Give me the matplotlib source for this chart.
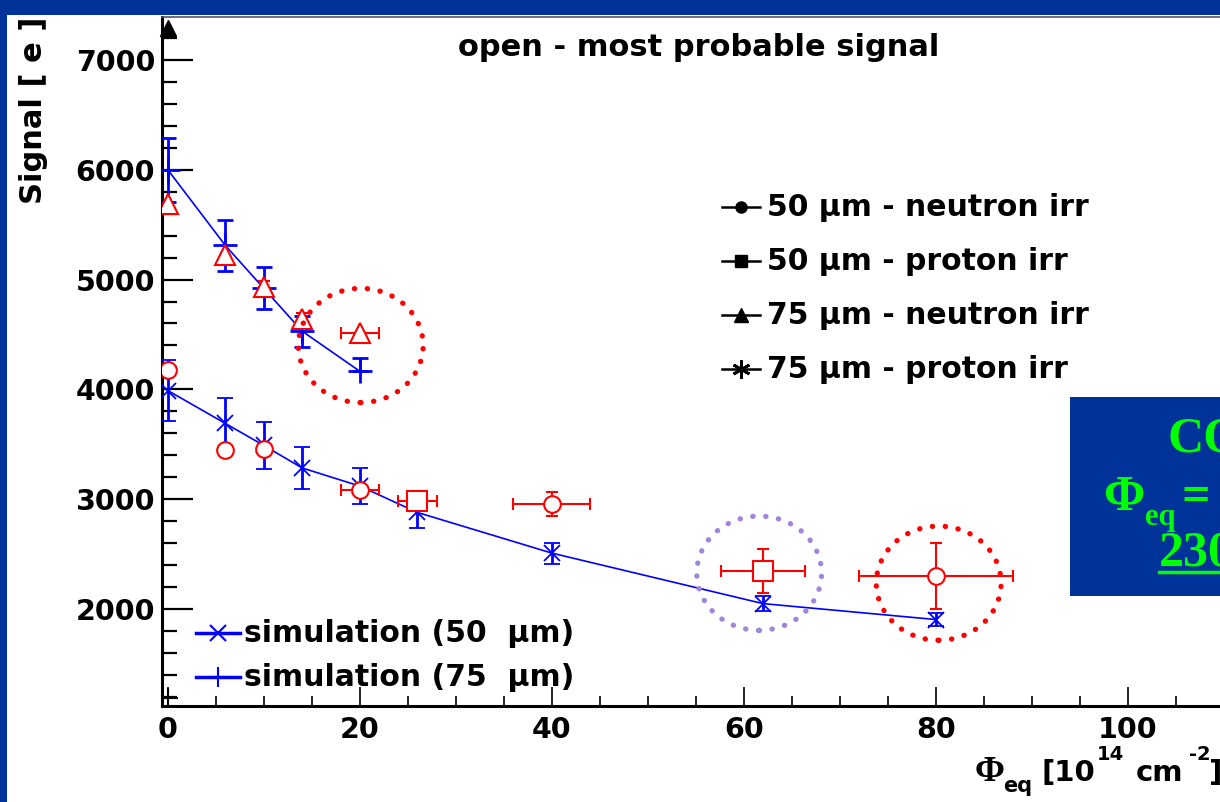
import matplotlib
matplotlib.use("Agg")
import matplotlib.pyplot as plt
from matplotlib.patches import Ellipse, Rectangle
from matplotlib.lines import Line2D
import numpy as np

W, H = 1220, 802
BLUE_BG = "#003399"
SANS = ["DejaVu Sans"]
SERIF = ["Liberation Serif", "DejaVu Serif"]

# ---------------- data ----------------
# simulation 75 um (plus markers)
sim75_x = [0, 6, 10, 14, 20]
sim75_y = [6000, 5310, 4920, 4530, 4165]
sim75_elo = [290, 230, 190, 140, 0]
sim75_ehi = [290, 230, 190, 140, 120]

# simulation 50 um (x markers)
sim50_x = [0, 6, 10, 14, 20, 26, 40, 62, 80]
sim50_y = [3990, 3690, 3490, 3285, 3120, 2880, 2510, 2050, 1905]
sim50_err = [280, 235, 215, 190, 165, 145, 95, 65, 60]

# 75 um neutron irr (open triangles)
n75_x = [0, 6, 10, 14, 20]
n75_y = [5690, 5220, 4930, 4640, 4510]
n75_yerr = [0, 0, 60, 60, 0]
n75_xerr = [0, 0, 0, 0, 2]

# 50 um neutron irr (open circles)
n50_x = [0, 6, 10, 20, 40, 80]
n50_y = [4180, 3450, 3460, 3080, 2960, 2300]
n50_yerr = [0, 0, 0, 40, 110, 300]
n50_xerr = [0, 0, 0, 2, 4, 8]

# 50 um proton irr (open squares)
p50_x = [26, 62]
p50_y = [2980, 2350]
p50_yerr = [40, 200]
p50_xerr = [2, 4.4]

xticks = [0, 20, 40, 60, 80, 100]
yticks = [2000, 3000, 4000, 5000, 6000, 7000]

legend_top = ["50 \u03bcm - neutron irr", "50 \u03bcm - proton irr",
              "75 \u03bcm - neutron irr", "75 \u03bcm - proton irr"]
legend_sim = ["simulation (50  \u03bcm)", "simulation (75  \u03bcm)"]

# ---------------- figure ----------------
fig = plt.figure(figsize=(W / 100, H / 100), dpi=100, facecolor=BLUE_BG)
fig.patches.append(Rectangle((7 / W, 0), 1, 1 - 15 / H, transform=fig.transFigure,
                             facecolor="white", edgecolor="none", zorder=-10))

def fx(px):
    return px / W

def fy(py):
    return 1 - py / H

ax = fig.add_axes([fx(162), fy(706), fx(1220) - fx(162), fy(17) - fy(706)])
ax.set_facecolor("white")
ax.set_xlim(-0.6, 109.6)
ax.set_ylim(1118, 7390)

for s in ["left", "bottom"]:
    ax.spines[s].set_linewidth(2.2)
ax.spines["right"].set_visible(False)
ax.spines["top"].set_linewidth(1.2)
ax.spines["top"].set_color("#555555")

ax.set_xticks(xticks)
ax.set_yticks(yticks)
ax.set_xticks(np.arange(0, 110, 5), minor=True)
ax.set_yticks(np.arange(1200, 7400, 200), minor=True)
ax.tick_params(axis="y", which="major", direction="in", length=22, width=1.6, pad=5)
ax.tick_params(axis="y", which="minor", direction="in", length=11, width=1.6)
ax.tick_params(axis="x", which="major", direction="in", length=14, width=1.2, pad=7)
ax.tick_params(axis="x", which="minor", direction="in", length=7, width=1.2)
for lab in ax.get_xticklabels() + ax.get_yticklabels():
    lab.set_family(SANS)
    lab.set_fontweight("bold")
    lab.set_fontsize(20.5)

# simulation lines
ax.plot(sim75_x, sim75_y, color="blue", lw=1.2, zorder=3)
ax.errorbar(sim75_x, sim75_y, yerr=[sim75_elo, sim75_ehi], fmt="+", color="blue",
            ms=17, mew=2, elinewidth=2, capsize=6, capthick=2, zorder=4)
ax.plot(sim50_x, sim50_y, color="blue", lw=1.2, zorder=3)
ax.errorbar(sim50_x, sim50_y, yerr=sim50_err, fmt="x", color="blue",
            ms=12, mew=1.3, elinewidth=2, capsize=6, capthick=2, zorder=4)

# measured data
ax.errorbar(n75_x, n75_y, yerr=n75_yerr, xerr=n75_xerr, fmt="^", color="red",
            mfc="white", ms=14, mew=1.5, elinewidth=1.5, capsize=4, capthick=1.5, zorder=5)
ax.errorbar(n50_x, n50_y, yerr=n50_yerr, xerr=n50_xerr, fmt="o", color="red",
            mfc="white", ms=12, mew=1.5, elinewidth=1.5, capsize=4, capthick=1.5, zorder=5)
ax.errorbar(p50_x, p50_y, yerr=p50_yerr, xerr=p50_xerr, fmt="s", color="red",
            mfc="white", ms=14, mew=1.5, elinewidth=1.5, capsize=4, capthick=1.5, zorder=5)

# stray black markers
ax.plot([0], [7290], marker="^", color="black", ms=11, clip_on=False, zorder=6)
ax.plot([0], [1190], marker="+", color="black", ms=14, mew=1.5, zorder=6)

# dotted circles
for (cx, cy, col) in [(20.1, 4400, "red"), (61.6, 2327, "#9f86d9"), (80.3, 2236, "red")]:
    e = Ellipse((cx, cy), 2 * 6.5, 2 * 520, fill=False, edgecolor=col, lw=3.8,
                linestyle=(0, (0.05, 2.4)), zorder=6)
    e.set_capstyle("round")
    ax.add_patch(e)

# title
fig.text(fx(699), fy(47), "open - most probable signal", ha="center", va="center",
         family=SANS, fontweight="bold", fontsize=22)

# y label
fig.text(fx(34), fy(110), "Signal [ e ]", rotation=90, ha="center", va="center",
         family=SANS, fontweight="bold", fontsize=22)

# x label pieces
fig.text(fx(975), fy(781), "\u03a6", ha="left", va="baseline", family=SERIF,
         fontweight="bold", fontsize=26)
fig.text(fx(1003), fy(792), "eq", ha="left", va="baseline", family=SANS,
         fontweight="bold", fontsize=15)
fig.text(fx(1042), fy(781), "[10", ha="left", va="baseline", family=SANS,
         fontweight="bold", fontsize=21)
fig.text(fx(1097), fy(760), "14", ha="left", va="baseline", family=SANS,
         fontweight="bold", fontsize=14)
fig.text(fx(1136), fy(781), "cm", ha="left", va="baseline", family=SANS,
         fontweight="bold", fontsize=21)
fig.text(fx(1189), fy(760), "-2", ha="left", va="baseline", family=SANS,
         fontweight="bold", fontsize=14)
fig.text(fx(1209), fy(781), "]", ha="left", va="baseline", family=SANS,
         fontweight="bold", fontsize=21)

# top-right legend
top_markers = [("o", 8, 1), ("s", 9, 1), ("^", 10, 1), ((6, 2, 0), 13, 2)]
for i, (lab, (mk, ms, mw)) in enumerate(zip(legend_top, top_markers)):
    y = 207 + i * 54
    fig.add_artist(Line2D([fx(722), fx(760)], [fy(y), fy(y)], color="black", lw=1.8,
                          transform=fig.transFigure))
    fig.add_artist(Line2D([fx(741)], [fy(y)], marker=mk, ms=ms, mew=mw, color="black",
                          transform=fig.transFigure))
    fig.text(fx(767), fy(y), lab, ha="left", va="center", family=SANS,
             fontweight="bold", fontsize=21.5)

# simulation legend
for i, (lab, mk, ms) in enumerate(zip(legend_sim, ["x", "+"], [11, 15])):
    y = 633 + i * 44
    fig.add_artist(Line2D([fx(196), fx(240)], [fy(y), fy(y)], color="blue", lw=2.5,
                          transform=fig.transFigure))
    fig.add_artist(Line2D([fx(218)], [fy(y)], marker=mk, ms=ms, mew=1.5, color="blue",
                          transform=fig.transFigure))
    fig.text(fx(244), fy(y), lab, ha="left", va="center", family=SANS,
             fontweight="bold", fontsize=21.5)

# blue box with green text (cropped at right edge, as in the source image)
fig.patches.append(Rectangle((fx(1070), fy(596)), fx(1220) - fx(1070), fy(397) - fy(596),
                             transform=fig.transFigure, facecolor=BLUE_BG,
                             edgecolor="none", zorder=5))
GREEN = "#00ff00"
fig.text(fx(1167), fy(452), "CO", ha="left", va="baseline", family=SERIF,
         fontweight="bold", fontsize=36, color=GREEN, zorder=6)
fig.text(fx(1103), fy(510), "\u03a6", ha="left", va="baseline", family=SERIF,
         fontweight="bold", fontsize=36, color=GREEN, zorder=6)
fig.text(fx(1145), fy(525), "eq", ha="left", va="baseline", family=SERIF,
         fontweight="bold", fontsize=22, color=GREEN, zorder=6)
fig.text(fx(1182), fy(510), "=", ha="left", va="baseline", family=SERIF,
         fontweight="bold", fontsize=36, color=GREEN, zorder=6)
fig.text(fx(1159), fy(566), "230", ha="left", va="baseline", family=SERIF,
         fontweight="bold", fontsize=36, color=GREEN, zorder=6)
fig.add_artist(Line2D([fx(1159), fx(1220)], [fy(572), fy(572)], color=GREEN, lw=2.5,
                      transform=fig.transFigure, zorder=6))

fig.savefig("out.png", dpi=100, facecolor=BLUE_BG)
